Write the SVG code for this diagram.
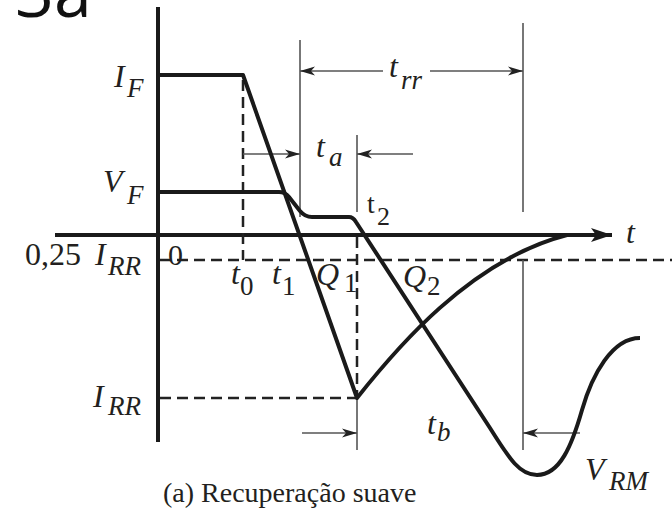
<svg xmlns="http://www.w3.org/2000/svg" width="672" height="515" viewBox="0 0 672 515">
<style>
.thick{fill:none;stroke:#1a1a1a;stroke-width:4;stroke-linejoin:round}
.dash{fill:none;stroke:#222;stroke-width:2.5;stroke-dasharray:11 6}
.thin{fill:none;stroke:#555;stroke-width:1.6}
.v{font-family:"Liberation Serif",serif;font-style:italic;fill:#231f20}
.r{font-family:"Liberation Serif",serif;fill:#231f20}
.m{font-size:32px}
.s{font-size:27px}
</style>
<defs>
<marker id="ah" markerUnits="userSpaceOnUse" markerWidth="16" markerHeight="10" refX="15" refY="5" orient="auto">
<path d="M0,0.5 L15,5 L0,9.5 L4,5 Z" fill="#222"/>
</marker>
<marker id="axh" markerUnits="userSpaceOnUse" markerWidth="22" markerHeight="14" refX="21" refY="7" orient="auto">
<path d="M0,0 L21,7 L0,14 L5,7 Z" fill="#1a1a1a"/>
</marker>
</defs>
<text x="15" y="17" font-family="Open Sans, sans-serif" font-size="68" fill="#111">3a</text>
<g id="axes">
<line x1="158" y1="7" x2="158" y2="442" class="thick"/>
<line x1="55" y1="235" x2="612" y2="235" class="thick" marker-end="url(#axh)"/>
</g>
<g id="guides">
<line x1="160" y1="260" x2="672" y2="260" class="dash"/>
<line x1="160" y1="398" x2="357" y2="398" class="dash"/>
<line x1="243" y1="80" x2="243" y2="260" class="dash"/>
<line x1="357" y1="237" x2="357" y2="398" class="dash"/>
<line x1="300" y1="40" x2="300" y2="217" class="thin"/>
<line x1="357" y1="135" x2="357" y2="212" class="thin"/>
<line x1="357" y1="398" x2="357" y2="450" class="thin"/>
<line x1="523" y1="23" x2="523" y2="212" class="thin"/>
<line x1="523" y1="260" x2="523" y2="450" class="thin"/>
</g>
<g id="connectors">
<line x1="383" y1="71" x2="300" y2="71" class="thin" marker-end="url(#ah)"/>
<line x1="430" y1="71" x2="523" y2="71" class="thin" marker-end="url(#ah)"/>
<line x1="243" y1="154" x2="300" y2="154" class="thin" marker-end="url(#ah)"/>
<line x1="413" y1="154" x2="357" y2="154" class="thin" marker-end="url(#ah)"/>
<line x1="302" y1="433" x2="357" y2="433" class="thin" marker-end="url(#ah)"/>
<line x1="580" y1="433" x2="523" y2="433" class="thin" marker-end="url(#ah)"/>
</g>
<g id="current">
<path class="thick" d="M158,75 L243,75 L357,398 C395,350 470,260 567,235"/>
</g>
<g id="voltage">
<path class="thick" d="M158,192 L279,192 Q285,192 289,197 L300,211 Q305,217 312,217 L349,217 Q353,217 356,222 L490,428 C510,460 520,475 537,475 C560,475 572,445 582,410 C592,375 612,338 640,338"/>
</g>
<g id="labels">
<text class="v m" x="114" y="87">I</text><text class="v s" x="127" y="97">F</text>
<text class="v m" x="103" y="192">V</text><text class="v s" x="127" y="204">F</text>
<text class="r m" x="25" y="265">0,25</text><text class="v m" x="95" y="265">I</text><text class="v s" x="108" y="275">RR</text>
<text class="r" font-size="30" x="168" y="265">0</text>
<text class="v m" x="93" y="407">I</text><text class="v s" x="108" y="415">RR</text>
<text class="v m" x="231" y="284">t</text><text class="r s" x="240" y="295">0</text>
<text class="v m" x="272" y="284">t</text><text class="r s" x="282" y="295">1</text>
<text class="v m" x="316" y="285">Q</text><text class="r s" x="344" y="292">1</text>
<text class="v m" x="403" y="287">Q</text><text class="r s" x="427" y="295">2</text>
<text class="r" font-size="28" x="367" y="213">t</text><text class="r" font-size="26" x="377" y="225">2</text>
<text class="v m" x="316" y="157">t</text><text class="v s" x="329" y="166">a</text>
<text class="v m" x="389" y="77">t</text><text class="v s" x="401" y="89">rr</text>
<text class="v m" x="626" y="243">t</text>
<text class="v m" x="427" y="434">t</text><text class="v s" x="437" y="441">b</text>
<text class="v m" x="585" y="480">V</text><text class="v s" x="609" y="490">RM</text>
<text class="r" font-size="28" x="163" y="502">(a) Recuperação suave</text>
</g>
</svg>
